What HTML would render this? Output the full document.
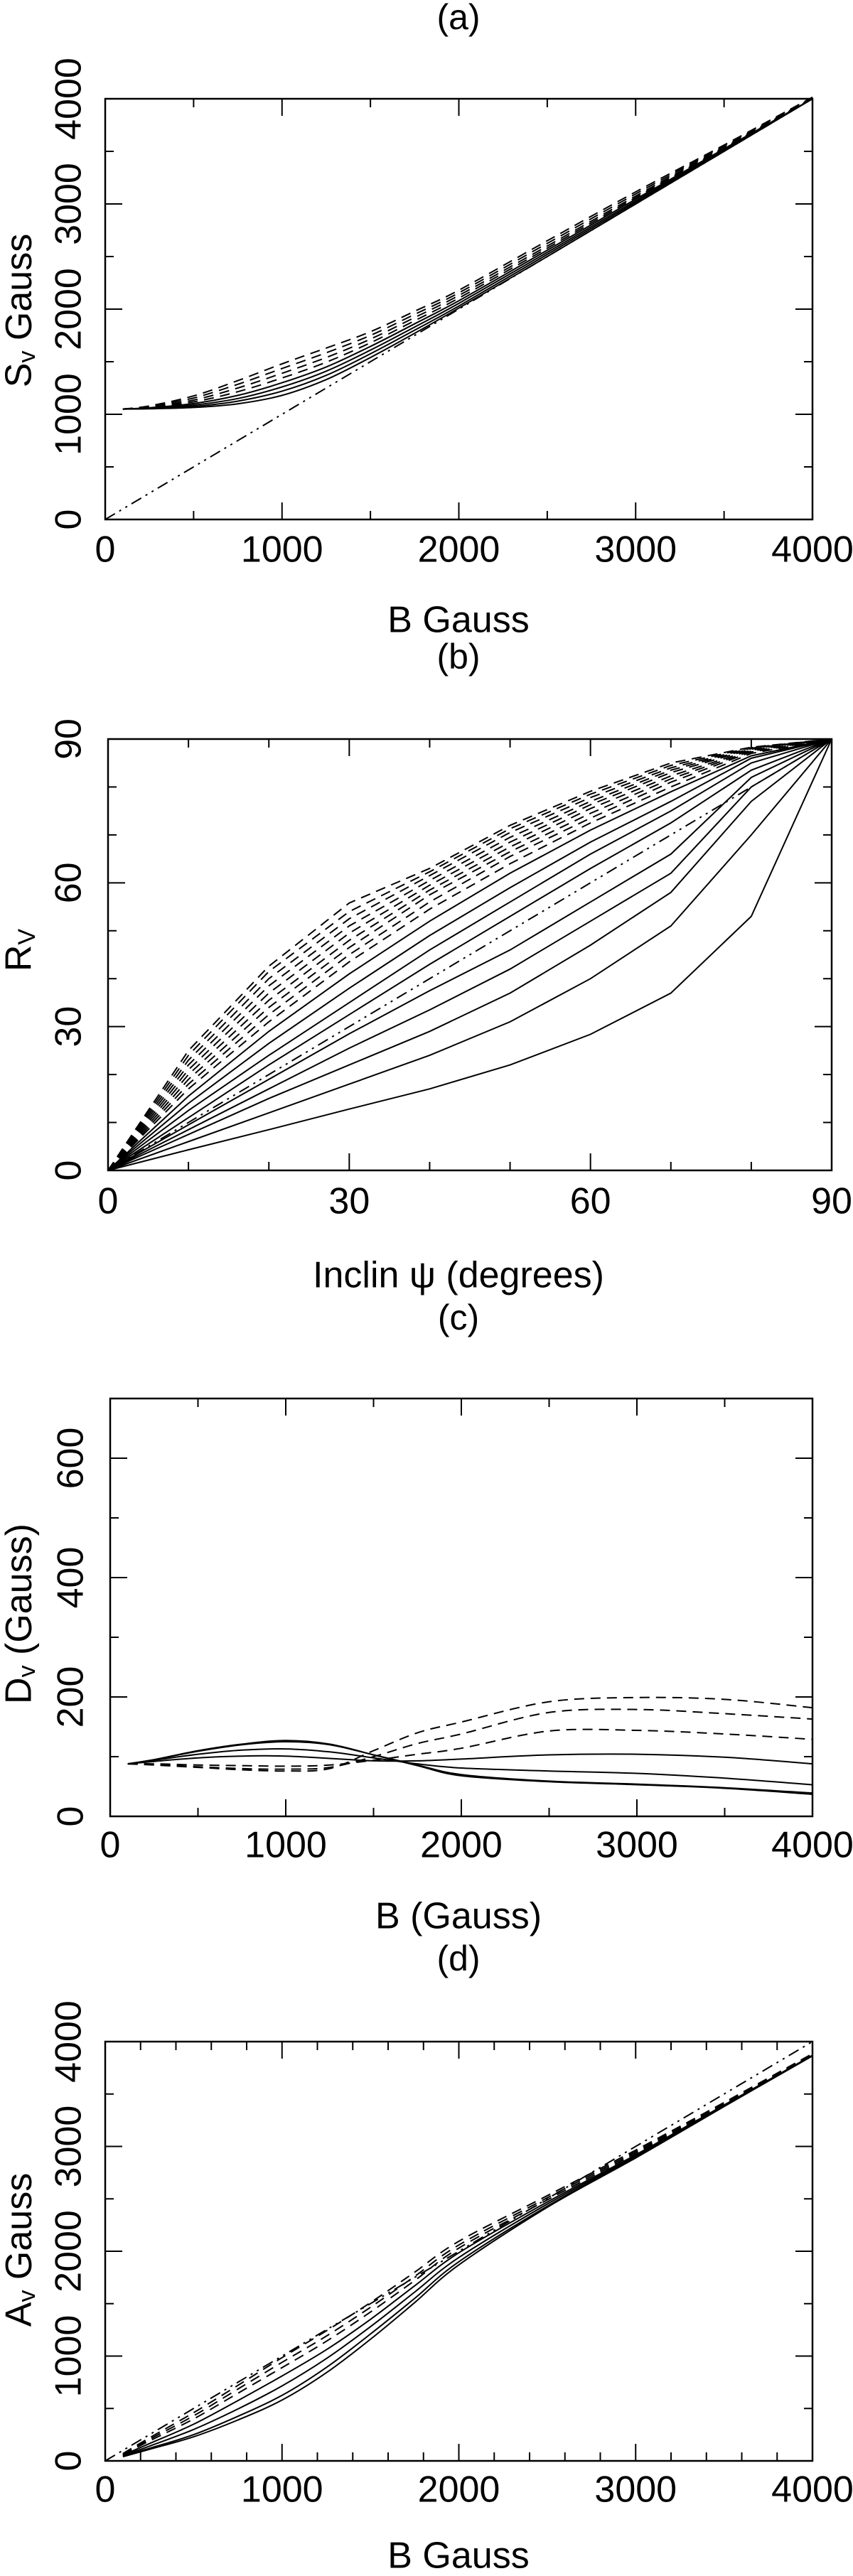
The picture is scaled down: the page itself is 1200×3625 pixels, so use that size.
<!DOCTYPE html>
<html><head><meta charset="utf-8">
<style>
html,body{margin:0;padding:0;background:#fff;}
svg{display:block;}
text{font-family:"Liberation Sans",sans-serif;fill:#000;}
</style></head>
<body>
<svg id="fig" width="1200" height="3625" viewBox="0 0 1200 3625" xmlns="http://www.w3.org/2000/svg"></svg>
<script>
// ---------- Panel (a) data ----------
const aX = [100,250,500,750,1000,1250,1500,1750,2000,2500,3000,3500,4000];
const aSolid = [
 [1050,1052,1065,1100,1180,1330,1540,1770,2010,2500,3000,3500,4000],
 [1050,1055,1075,1125,1220,1370,1575,1800,2030,2520,3015,3508,4000],
 [1050,1058,1088,1150,1260,1410,1610,1830,2055,2540,3030,3516,4000],
 [1050,1062,1102,1180,1300,1450,1645,1860,2080,2560,3045,3524,4000]
];
const aDashed = [
 [1050,1066,1118,1215,1345,1495,1680,1890,2105,2580,3060,3532,4005],
 [1050,1070,1135,1250,1390,1540,1715,1920,2130,2600,3075,3540,4008],
 [1050,1075,1155,1285,1435,1585,1750,1950,2155,2625,3095,3550,4012],
 [1050,1080,1175,1320,1480,1630,1785,1980,2180,2650,3115,3560,4015]
];
const aRefX = [0,4000];
const aRefY = [0,4000];
const aXTicks = ["0","1000","2000","3000","4000"];
const aYTicks = ["0","1000","2000","3000","4000"];

// ---------- Panel (b) data ----------
const bX = [0,10,20,30,40,50,60,70,80,90];
const bSolid = [
 [0,4.3,8.5,12.8,17,22,28.4,37,53,90],
 [0,6,12,18,24,31,40,51,70,90],
 [0,7.5,15,22,29,37,47,58,77,90],
 [0,8.5,17,25.5,33.5,42,52,62,80,90],
 [0,9.5,19,28.5,37.5,46,56,66,82,90],
 [0,11,22,32.5,43,53,63,72.5,83.5,90],
 [0,12.5,24,35,46,56,66,75,85,90],
 [0,14,26.5,38,49,59,68.5,77,86,90],
 [0,15.5,29,41,52,62,71,79,86.5,90]
];
const bDashed = [
 [0,17,31,43.5,54.5,64,72.5,80,87,90],
 [0,18,32.5,45,56,65.5,73.5,81,87.3,90],
 [0,19,34,46.5,57.5,66.5,74.5,81.7,87.5,90],
 [0,20,35.5,48,58.5,67.5,75.5,82.3,87.7,90],
 [0,21,37,49.5,59.5,68.5,76.3,83,87.9,90],
 [0,22,38.5,51,60.5,69.5,77,83.5,88,90],
 [0,23,40,52.5,61.5,70.5,77.8,84,88.1,90],
 [0,24,41.5,54,62.3,71.3,78.5,84.5,88.2,90],
 [0,25,42.6,55.8,63,72,79.1,85,88.3,90]
];
const bRefX = [0,90];
const bRefY = [0,90];
const bXTicks = ["0","30","60","90"];
const bYTicks = ["0","30","60","90"];

// ---------- Panel (c) data ----------
const cX = [100,250,500,750,1000,1250,1500,1750,2000,2500,3000,3500,4000];
const cSolid = [
 [88,95,110,121,127,121,103,85,68,58,53,47,37],
 [88,95,109,120,125,120,103,86,70,59,54,48,39],
 [88,94,104,111,113,108,98,88,81,76,72,64,53],
 [88,92,98,101,101,97,93,93,96,103,104,99,88]
];
const cDashed = [
 [88,86,82,78,76,80,110,140,158,192,199,196,182],
 [88,87,83,80,79,82,100,122,138,174,179,172,163],
 [88,88,86,85,84,86,94,104,114,143,144,138,129]
];
const cXTicks = ["0","1000","2000","3000","4000"];
const cYTicks = ["0","200","400","600"];

// ---------- Panel (d) data ----------
const dX = [100,250,500,750,1000,1250,1500,1750,2000,2500,3000,3500,4000];
const dSolid = [
 [40,110,230,390,580,840,1160,1510,1870,2420,2890,3380,3864],
 [45,120,250,425,625,890,1210,1550,1900,2430,2900,3385,3866],
 [50,140,300,495,715,975,1280,1610,1940,2450,2910,3390,3868],
 [55,165,350,575,810,1060,1350,1670,1985,2470,2920,3395,3870]
];
const dDashed = [
 [60,190,400,645,890,1140,1420,1720,2030,2490,2935,3400,3875],
 [65,205,430,685,940,1190,1465,1760,2060,2510,2950,3410,3880],
 [70,220,460,720,985,1240,1510,1800,2095,2530,2965,3420,3885]
];
const dRefX = [0,4000];
const dRefY = [0,4000];
const dXTicks = ["0","1000","2000","3000","4000"];
const dYTicks = ["0","1000","2000","3000","4000"];

const NS = "http://www.w3.org/2000/svg";
const svg = document.getElementById('fig');

function mk(tag, attrs, parent){
  const e = document.createElementNS(NS, tag);
  for (const k in attrs) e.setAttribute(k, attrs[k]);
  (parent||svg).appendChild(e);
  return e;
}

function smoothPath(pts){
  let d = 'M' + pts[0][0].toFixed(1) + ',' + pts[0][1].toFixed(1);
  for (let i = 0; i < pts.length - 1; i++){
    const p0 = pts[i-1] || pts[i], p1 = pts[i], p2 = pts[i+1], p3 = pts[i+2] || p2;
    const c1x = p1[0] + (p2[0]-p0[0])/6, c1y = p1[1] + (p2[1]-p0[1])/6;
    const c2x = p2[0] - (p3[0]-p1[0])/6, c2y = p2[1] - (p3[1]-p1[1])/6;
    d += ' C' + c1x.toFixed(1)+','+c1y.toFixed(1)+' '+c2x.toFixed(1)+','+c2y.toFixed(1)+' '+p2[0].toFixed(1)+','+p2[1].toFixed(1);
  }
  return d;
}

function panel(cfg){
  const g = mk('g', {});
  
  
  const sx = v => cfg.L + (v - cfg.x0) / (cfg.x1 - cfg.x0) * (cfg.R - cfg.L);
  const sy = v => cfg.B - (v - cfg.y0) / (cfg.y1 - cfg.y0) * (cfg.B - cfg.T);

  const t = mk('text', {x:645, y:cfg.titleY, 'font-size':50, 'text-anchor':'middle', 'dominant-baseline':'middle'}, g);
  t.textContent = cfg.title;
  
  

  const tg = mk('g', {stroke:'#000','stroke-width':2}, g);
  
  
  for (let v = cfg.x0; v <= cfg.x1 + 1e-9; v += cfg.xMinor){
    const major = Math.abs((v / cfg.xMajor) - Math.round(v / cfg.xMajor)) < 1e-6;
    const len = major ? 24 : 12;
    const x = sx(v);
    mk('line', {x1:x, y1:cfg.B, x2:x, y2:cfg.B-len}, tg);
    mk('line', {x1:x, y1:cfg.T, x2:x, y2:cfg.T+len}, tg);
  }
  for (let v = cfg.y0; v <= cfg.y1 + 1e-9; v += cfg.yMinor){
    const major = Math.abs((v / cfg.yMajor) - Math.round(v / cfg.yMajor)) < 1e-6;
    const len = major ? 24 : 12;
    const y = sy(v);
    mk('line', {x1:cfg.L, y1:y, x2:cfg.L+len, y2:y}, tg);
    mk('line', {x1:cfg.R, y1:y, x2:cfg.R-len, y2:y}, tg);
  }

  cfg.xTicks.forEach(s => {
    const lab = mk('text', {x:sx(parseFloat(s)), y:cfg.xLabY, 'font-size':52, 'text-anchor':'middle', 'dominant-baseline':'middle'}, g);
    lab.textContent = s;
    
    
  });
  cfg.yTicks.forEach(s => {
    const y = sy(parseFloat(s));
    const lab = mk('text', {x:0, y:0, 'font-size':52, 'text-anchor':'middle', 'dominant-baseline':'middle', transform:`translate(${cfg.yLabX},${y}) rotate(-90)`}, g);
    lab.textContent = s;
    
    
  });

  const xt = mk('text', {x:645, y:cfg.xTitleY, 'font-size':52, 'text-anchor':'middle', 'dominant-baseline':'middle'}, g);
  xt.innerHTML = cfg.xTitle;
  
  
  const yt = mk('text', {x:0, y:0, 'font-size':52, 'text-anchor':'middle', 'dominant-baseline':'middle', transform:`translate(30,${cfg.yTitleY}) rotate(-90)`}, g);
  yt.innerHTML = cfg.yTitle;
  
  

  function line(xs, ys, dash, name, smooth){
    const pts = xs.map((x,i) => [sx(x), sy(ys[i])]);
    const d = smooth ? smoothPath(pts) : pts.map((p,i) => (i ? 'L' : 'M') + p[0].toFixed(1) + ',' + p[1].toFixed(1)).join(' ');
    const p = mk('path', {d:d, fill:'none', stroke:'#000', 'stroke-width':2, 'stroke-dasharray':dash||'none'}, g);
    
    
  }
  if (cfg.ref) line(cfg.ref[0], cfg.ref[1], '16,7,3,7,3,7', 'reference-line', false);
  cfg.solid.forEach(ys => line(cfg.xs, ys, null, 'solid-curve', cfg.smooth));
  cfg.dashed.forEach(ys => line(cfg.xs, ys, '14,9', 'dashed-curve', cfg.smooth));

  const f = mk('rect', {x:cfg.L, y:cfg.T, width:cfg.R-cfg.L, height:cfg.B-cfg.T, fill:'none', stroke:'#000', 'stroke-width':2.5}, g);
  
  
}

panel({name:'panel-a', title:'(a)', titleY:28, L:148, R:1143, T:139, B:731, x0:0, x1:4000, y0:0, y1:4000,
  xMinor:500, xMajor:1000, yMinor:500, yMajor:1000, xTicks:aXTicks, yTicks:aYTicks, xLabY:777, yLabX:100,
  xTitle:'B Gauss', xTitleY:876, yTitle:'S<tspan font-size="34" dy="10">v</tspan><tspan dy="-10">  Gauss</tspan>', yTitleY:437,
  xs:aX, solid:aSolid, dashed:aDashed, ref:[aRefX, aRefY], smooth:true});

panel({name:'panel-b', title:'(b)', titleY:928, L:152, R:1170, T:1040, B:1647, x0:0, x1:90, y0:0, y1:90,
  xMinor:10, xMajor:30, yMinor:10, yMajor:30, xTicks:bXTicks, yTicks:bYTicks, xLabY:1694, yLabX:100,
  xTitle:'Inclin \u03C8 (degrees)', xTitleY:1798, yTitle:'R<tspan font-size="34" dy="10">V</tspan>', yTitleY:1337,
  xs:bX, solid:bSolid, dashed:bDashed, ref:[bRefX, bRefY], smooth:false});

panel({name:'panel-c', title:'(c)', titleY:1858, L:155, R:1143, T:1968, B:2556, x0:0, x1:4000, y0:0, y1:700,
  xMinor:500, xMajor:1000, yMinor:100, yMajor:200, xTicks:cXTicks, yTicks:cYTicks, xLabY:2600, yLabX:103,
  xTitle:'B (Gauss)', xTitleY:2700, yTitle:'D<tspan font-size="34" dy="10">v</tspan><tspan dy="-10">  (Gauss)</tspan>', yTitleY:2271,
  xs:cX, solid:cSolid, dashed:cDashed, ref:null, smooth:true});

panel({name:'panel-d', title:'(d)', titleY:2760, L:148, R:1143, T:2873, B:3463, x0:0, x1:4000, y0:0, y1:4000,
  xMinor:200, xMajor:1000, yMinor:500, yMajor:1000, xTicks:dXTicks, yTicks:dYTicks, xLabY:3507, yLabX:100,
  xTitle:'B Gauss', xTitleY:3600, yTitle:'A<tspan font-size="34" dy="10">v</tspan><tspan dy="-10">  Gauss</tspan>', yTitleY:3166,
  xs:dX, solid:dSolid, dashed:dDashed, ref:[dRefX, dRefY], smooth:true});
</script>
</body></html>
